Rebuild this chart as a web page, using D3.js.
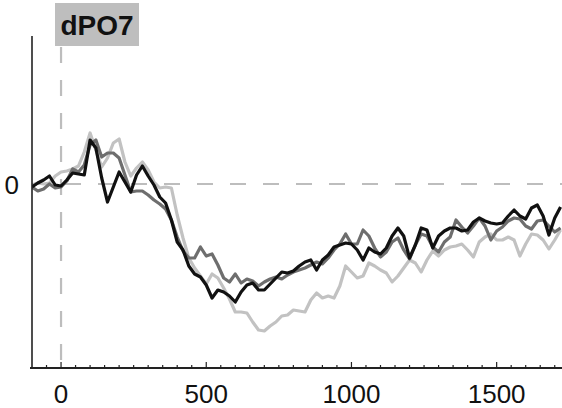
<!DOCTYPE html>
<html lang="en">
<head>
<meta charset="UTF-8">
<title>dPO7</title>
<script src="https://d3js.org/d3.v7.min.js"></script>
<style>
  body { margin: 0; background: #fff; }
  svg { display: block; font-family: "Liberation Sans", Arial, Helvetica, sans-serif; }
</style>
</head>
<body>
<div id="chart"></div>
<script>
// sample times (ms), one every 20 ms
const times = d3.range(-100, 1721, 20);

// amplitudes, one value per sample
const blackWave = [
  -0.3, 0.1, 0.4, 0.8, -0.1, -0.2, 0.4, 1.1, 1.0, 0.9,
  4.4, 3.6, 0.6, -1.8, -0.3, 1.2, 0.2, -0.8, 0.9, 1.8,
  0.8, -0.1, -1.3, -1.9, -3.6, -5.8, -6.6, -8.2, -9.0, -9.3,
  -10.1, -11.4, -10.6, -10.8, -11.2, -11.8, -10.8, -10.1, -9.9, -10.6,
  -10.6, -10.0, -9.4, -8.8, -8.9, -8.7, -8.2, -7.8, -7.6, -8.6,
  -7.6, -7.1, -6.3, -6.1, -5.9, -6.0, -6.6, -7.6, -6.4, -6.8,
  -7.0, -6.4, -5.2, -4.4, -5.2, -7.4, -6.1, -4.4, -4.6, -6.4,
  -5.2, -4.7, -4.4, -4.4, -4.7, -4.6, -3.8, -3.4, -3.7, -3.9,
  -4.0, -3.9, -3.2, -2.6, -3.2, -3.5, -2.4, -2.1, -3.2, -5.1,
  -3.4, -2.3
];
const darkWave = [
  -0.3, -0.7, -0.5, 0.0, -0.4, -0.3, 0.3, 1.5, 1.2, 1.9,
  3.9, 4.4, 2.7, 3.1, 3.1, 2.6, 0.9, -0.8, -0.7, -0.7,
  -1.1, -1.6, -2.0, -2.5, -3.6, -5.3, -6.7, -7.4, -7.4, -6.3,
  -7.2, -7.0, -8.1, -9.4, -9.8, -9.0, -9.9, -9.5, -9.7, -10.2,
  -9.8, -9.5, -9.3, -9.5, -9.1, -8.8, -8.6, -8.4, -8.1, -7.8,
  -8.0, -7.4, -6.6, -6.0, -5.0, -6.0, -6.0, -4.6, -5.2, -6.4,
  -7.3, -6.8, -5.8, -5.4, -6.6, -7.5, -6.1, -5.0, -5.2, -6.3,
  -6.8, -5.8, -5.3, -3.6, -4.3, -4.9, -4.2, -3.4, -4.2, -5.6,
  -4.7, -4.3, -3.7, -3.4, -3.5, -4.2, -4.5, -3.7, -3.6, -4.2,
  -4.8, -4.4
];
const lightWave = [
  -0.1, 0.1, 0.0, 0.1, 0.8, 1.2, 1.3, 1.5, 1.8, 3.2,
  5.1, 3.4, 1.7, 2.6, 4.1, 4.5, 2.2, 0.8, 1.6, 2.2,
  1.4, 0.2, -0.4, -0.3, -0.4, -3.1, -5.4, -7.4, -8.4, -9.2,
  -10.0, -9.0, -9.4, -10.4, -11.5, -12.8, -12.8, -12.9, -13.8, -14.6,
  -14.7, -14.2, -13.8, -13.2, -13.1, -12.6, -12.7, -12.8, -11.6, -10.9,
  -11.4, -11.2, -11.4, -10.2, -8.2, -8.8, -9.4, -9.2, -7.9, -8.2,
  -8.6, -8.9, -9.8, -9.2, -8.4, -7.6, -7.9, -8.8, -7.6, -6.7,
  -7.2, -6.6, -6.3, -6.2, -6.0, -6.6, -7.3, -5.8, -5.3, -5.0,
  -5.6, -5.6, -5.3, -5.6, -7.2, -6.0, -5.0, -5.1, -5.6, -6.5,
  -5.6, -4.6
];

const xTickLabels = [0, 500, 1000, 1500];
const minorTicks = d3.range(-50, 1701, 50);
const yTickLabels = [0];
const title = "dPO7";

const width = 562, height = 408;
const x = d3.scaleLinear().domain([-100, 1725]).range([32, 562]);
const y = d3.scaleLinear().domain([-18.4, 14.8]).range([368, 36]);

const svg = d3.select('#chart').append('svg')
  .attr('width', width)
  .attr('height', height);

// zero reference lines
svg.append('line')
  .attr('x1', x(-100)).attr('x2', width)
  .attr('y1', y(0)).attr('y2', y(0))
  .attr('stroke', '#bdbdbd').attr('stroke-width', 2.2)
  .attr('stroke-dasharray', '16,17');

svg.append('line')
  .attr('x1', x(0)).attr('x2', x(0))
  .attr('y1', 47).attr('y2', y.range()[0])
  .attr('stroke', '#bdbdbd').attr('stroke-width', 2.2)
  .attr('stroke-dasharray', '16,17');

// waves, light first so the dark ones sit on top
const series = [
  { values: lightWave, color: '#c2c2c2' },
  { values: darkWave, color: '#6e6e6e' },
  { values: blackWave, color: '#111111' }
];

const line = d3.line()
  .x((d, i) => x(times[i]))
  .y(d => y(d));

svg.append('defs').append('clipPath').attr('id', 'plot')
  .append('rect').attr('x', 32).attr('y', 0).attr('width', width - 32).attr('height', 368);

svg.append('g').attr('clip-path', 'url(#plot)')
  .selectAll('path')
  .data(series)
  .join('path')
  .attr('fill', 'none')
  .attr('stroke', d => d.color)
  .attr('stroke-width', 3.2)
  .attr('stroke-linejoin', 'round')
  .attr('d', d => line(d.values));

// x axis
const xAxis = svg.append('g').attr('transform', `translate(0, ${y.range()[0]})`);
xAxis.append('line')
  .attr('x1', 30).attr('x2', width)
  .attr('stroke', '#222').attr('stroke-width', 2);
xAxis.selectAll('.minor')
  .data(minorTicks)
  .join('line')
  .attr('class', 'minor')
  .attr('x1', d => x(d)).attr('x2', d => x(d))
  .attr('y1', 0).attr('y2', d => d % 500 === 0 ? -6 : -3)
  .attr('stroke', '#222').attr('stroke-width', 1.2);
xAxis.selectAll('.lbl')
  .data(xTickLabels)
  .join('text')
  .attr('class', 'lbl')
  .attr('x', d => x(d))
  .attr('y', 35)
  .attr('text-anchor', 'middle')
  .attr('font-size', 26)
  .attr('fill', '#111')
  .text(d => d);

// y axis
svg.append('line')
  .attr('x1', 32).attr('x2', 32)
  .attr('y1', y.range()[1]).attr('y2', y.range()[0])
  .attr('stroke', '#222').attr('stroke-width', 1.6);
svg.selectAll('.ylbl')
  .data(yTickLabels)
  .join('text')
  .attr('class', 'ylbl')
  .attr('x', 19)
  .attr('y', d => y(d) + 10)
  .attr('text-anchor', 'end')
  .attr('font-size', 26)
  .attr('fill', '#111')
  .text(d => d);

// title tag
svg.append('rect')
  .attr('x', 55).attr('y', 3)
  .attr('width', 84).attr('height', 43)
  .attr('fill', '#bebebe');
svg.append('text')
  .attr('x', 97).attr('y', 35)
  .attr('text-anchor', 'middle')
  .attr('font-size', 28)
  .attr('font-weight', 'bold')
  .attr('fill', '#111')
  .text(title);
</script>
</body>
</html>
